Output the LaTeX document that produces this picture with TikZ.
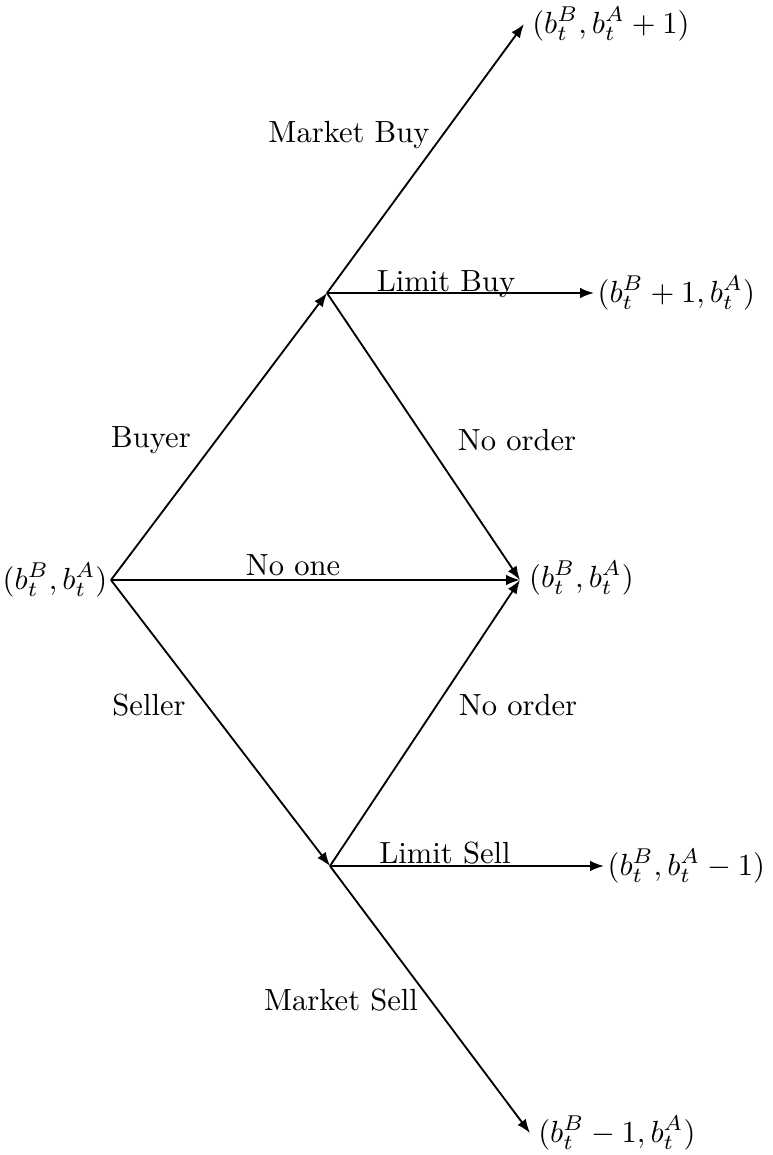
\documentclass[tikz,border=0pt]{standalone}
\usetikzlibrary{arrows.meta}
\begin{document}
\begin{tikzpicture}[x=0.327pt,y=-0.327pt,
  arr/.style={line width=0.6pt,-{Latex[length=4.5pt,width=3.4pt]}},
  lbl/.style={inner sep=0pt},
  endtxt/.style={inner sep=1pt,anchor=west}]
\useasboundingbox (0,0) rectangle (773,1155);
\node[inner sep=1pt,anchor=east] (root) at (111,580) {$(b_t^B, b_t^A)$};
\coordinate (b) at (327,293);
\coordinate (s) at (330,866);
\node[endtxt,inner sep=2.8pt] (mid) at (520,578) {$(b_t^B, b_t^A)$};
\node[endtxt,inner sep=2.5pt] (top) at (524,24) {$(b_t^B, b_t^A+1)$};
\node[endtxt] (lbe) at (594,293) {$(b_t^B+1, b_t^A)$};
\node[endtxt] (lse) at (604,866) {$(b_t^B, b_t^A-1)$};
\node[endtxt,inner sep=2.5pt] (bot) at (530,1133) {$(b_t^B-1, b_t^A)$};

\draw[arr] (root.east) -- (b);
\draw[arr] (root.east) -- (s);
\draw[arr] (root.east) -- (mid.west |- root.east);
\draw[arr] (b) -- (top.west);
\draw[arr] (b) -- (lbe.west);
\draw[arr] (b) -- (mid.west |- root.east);
\draw[arr] (s) -- (mid.west |- root.east);
\draw[arr] (s) -- (lse.west);
\draw[arr] (s) -- (bot.west);

\node[lbl] (lmb) at (349,135) {Market Buy};
\node[lbl,anchor=base] (llb) at (446,291) {Limit Buy};
\node[lbl] (lno1) at (517,440) {No order};
\node[lbl] (lbuy) at (151,440) {Buyer};
\node[lbl,anchor=base] (lnone) at (293,575) {No one};
\node[lbl] (lsel) at (149,705) {Seller};
\node[lbl] (lno2) at (518,705) {No order};
\node[lbl,anchor=base] (lls) at (445,863) {Limit Sell};
\node[lbl] (lms) at (341,1000) {Market Sell};
\end{tikzpicture}
\end{document}
